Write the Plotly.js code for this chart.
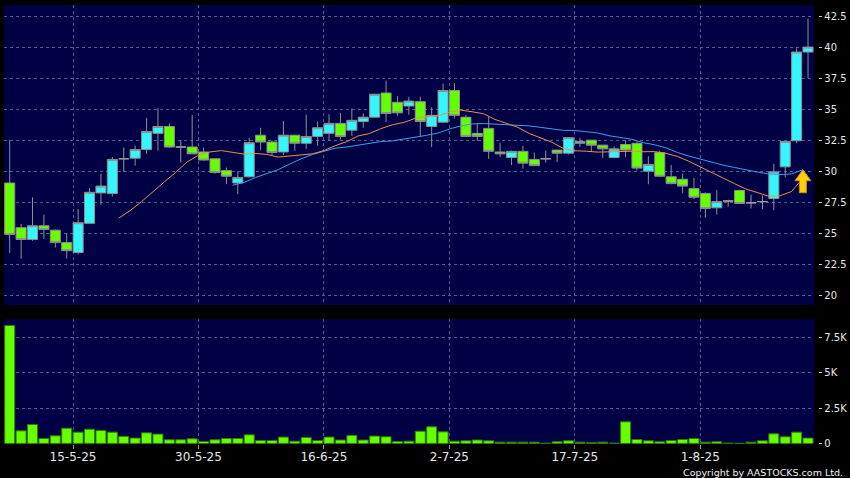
<!DOCTYPE html>
<html>
<head>
<meta charset="utf-8">
<script src="https://cdn.plot.ly/plotly-3.0.1.min.js"></script>
<style>
html,body{margin:0;padding:0;background:#000;}
#chart{width:850px;height:478px;}
</style>
</head>
<body>
<div id="chart"></div>
<script>
// ---- data ----
const dates = ['8-5-25','9-5-25','12-5-25','13-5-25','14-5-25','15-5-25','16-5-25','19-5-25','20-5-25','21-5-25',
  '22-5-25','23-5-25','26-5-25','27-5-25','28-5-25','29-5-25','30-5-25','2-6-25','3-6-25','4-6-25',
  '5-6-25','6-6-25','9-6-25','10-6-25','11-6-25','12-6-25','13-6-25','16-6-25','17-6-25','18-6-25',
  '19-6-25','20-6-25','23-6-25','24-6-25','25-6-25','26-6-25','27-6-25','30-6-25','2-7-25','3-7-25',
  '4-7-25','7-7-25','8-7-25','9-7-25','10-7-25','11-7-25','14-7-25','15-7-25','16-7-25','17-7-25',
  '18-7-25','21-7-25','22-7-25','23-7-25','24-7-25','25-7-25','28-7-25','29-7-25','30-7-25','31-7-25',
  '1-8-25','4-8-25','5-8-25','6-8-25','7-8-25','8-8-25','11-8-25','12-8-25','13-8-25','14-8-25','15-8-25'];

const open = [29.05,25.45,24.5,25.6,25.25,24.25,23.45,25.8,28.25,28.2,
  31.0,31.05,31.75,33.05,33.6,31.95,31.95,31.55,31.0,30.05,
  29.05,29.55,32.9,32.35,31.55,32.9,32.25,32.8,33.05,33.85,
  33.3,34.0,34.35,36.3,35.55,35.25,35.6,33.6,33.95,36.5,
  34.35,33.05,33.45,31.55,31.1,31.6,30.95,31.0,31.7,31.45,
  32.25,32.5,32.1,31.1,32.15,32.25,30.0,31.5,29.55,29.35,
  28.6,28.2,27.05,27.6,28.45,27.45,27.55,27.8,30.35,32.45,39.6];

const high = [32.5,25.75,27.9,26.5,25.3,25.0,26.95,28.65,29.8,31.15,
  31.9,32.05,34.3,35.1,33.85,32.5,34.55,31.9,31.0,30.3,
  30.0,32.7,33.5,32.5,34.05,32.9,34.55,34.0,34.6,34.7,
  35.05,34.65,36.25,37.3,36.05,36.0,36.0,35.15,37.05,37.1,
  34.55,33.85,34.4,32.3,31.65,32.05,31.5,31.65,31.7,32.75,
  32.7,32.5,32.1,32.0,32.5,32.4,31.2,31.65,30.5,29.8,
  29.45,28.3,28.5,27.7,28.5,28.1,28.05,30.6,32.4,39.9,42.3];

const low = [23.4,22.95,24.4,24.55,23.85,22.95,23.3,25.8,27.3,27.95,
  29.95,30.45,31.4,31.65,31.9,30.7,31.4,30.85,29.8,28.95,
  28.15,29.5,31.7,31.3,31.3,31.65,31.8,32.05,32.45,32.55,
  32.85,33.5,34.3,33.95,34.45,34.55,32.8,31.95,33.9,34.25,
  32.8,32.45,31.0,31.15,30.5,30.2,30.45,30.7,30.75,31.35,
  31.95,31.55,31.05,31.1,31.15,30.05,28.95,29.55,28.95,28.25,
  27.75,26.25,26.5,27.15,27.35,27.0,26.95,26.85,29.5,32.25,37.5];

const close = [24.9,24.5,25.6,25.3,24.25,23.6,25.85,28.3,28.8,30.95,
  31.0,31.75,33.2,33.6,31.95,31.95,31.4,30.9,29.9,29.6,
  29.5,32.3,32.35,31.5,32.9,32.25,32.8,33.5,33.85,32.8,
  34.1,34.35,36.2,34.65,34.7,35.65,34.0,34.5,36.5,34.5,
  32.8,32.8,31.6,31.4,31.6,30.65,30.45,31.0,31.45,32.7,
  32.4,32.1,31.8,31.8,31.7,30.25,30.55,29.6,29.0,28.8,
  27.9,27.0,27.55,27.6,27.4,27.45,27.55,29.95,32.4,39.6,40.0];

const volume = [8350,890,1340,350,540,1080,800,1010,920,800,
  500,380,750,660,260,260,330,140,260,350,
  350,610,210,210,450,160,420,210,450,240,
  570,240,520,470,140,160,870,1180,820,160,
  190,240,190,90,90,90,90,20,120,190,
  90,70,90,20,1530,280,190,120,210,280,
  350,90,120,20,10,90,190,680,470,800,380];

const ma10 = [null,null,null,null,null,null,null,null,null,26.21,
  26.82,27.54,28.30,29.13,29.90,30.74,31.29,31.55,31.66,31.53,
  31.38,31.43,31.35,31.14,31.23,31.26,31.40,31.66,32.06,32.38,
  32.84,33.04,33.43,33.74,33.92,34.26,34.38,34.48,34.75,34.92,
  34.79,34.63,34.17,33.85,33.54,33.04,32.68,32.33,31.83,31.65,
  31.61,31.54,31.56,31.60,31.61,31.57,31.58,31.44,31.19,30.80,
  30.35,29.84,29.42,29.00,28.57,28.29,27.99,28.02,28.36,29.44,null];

const ma20 = [null,null,null,null,null,null,null,null,null,null,
  null,null,null,null,null,null,null,null,null,28.87,
  29.10,29.49,29.82,30.13,30.57,31.00,31.35,31.61,31.86,31.95,
  32.11,32.24,32.39,32.44,32.58,32.76,32.89,33.07,33.40,33.65,
  33.81,33.84,33.80,33.79,33.73,33.65,33.53,33.41,33.29,33.28,
  33.20,33.08,32.86,32.72,32.57,32.30,32.13,31.88,31.51,31.22,
  30.98,30.69,30.49,30.30,30.09,29.93,29.78,29.73,29.78,30.12,null];

const tickDates = ['15-5-25','30-5-25','16-6-25','2-7-25','17-7-25','1-8-25'];
const priceTicks = [20,22.5,25,27.5,30,32.5,35,37.5,40,42.5];
const priceTickText = ['20','22.5','25','27.5','30','32.5','35','37.5','40','42.5'];
const volTicks = [0,2500,5000,7500];
const volTickText = ['0','2.5K','5K','7.5K'];

// ---- styling / layout ----
const UP = '#33f6ff', DOWN = '#66ff00', EDGE = '#8f8f8f', DOJI = '#9a9a9a';
const GRID = '#5a5a8c';
const SLOT = 0.55;            // lines & grid sit at the right part of each slot
const XD = 810.3/846;         // x domain end

const idx = dates.map((d,i)=>i);
function pick(f){
  const ids = idx.filter(f);
  return {x: ids, open: ids.map(i=>open[i]), high: ids.map(i=>high[i]),
          low: ids.map(i=>low[i]), close: ids.map(i=>close[i])};
}
function candle(sub, incCol, decCol, lineCol){
  return Object.assign({
    type:'candlestick', xaxis:'x', yaxis:'y', whiskerwidth:0, hoverinfo:'skip',
    increasing:{line:{color:lineCol, width:1}, fillcolor:incCol},
    decreasing:{line:{color:lineCol, width:1}, fillcolor:decCol}
  }, sub);
}
const upT = candle(pick(i=>close[i]>open[i]), UP, UP, EDGE);
const dnT = candle(pick(i=>close[i]<open[i]), DOWN, DOWN, EDGE);
const djT = candle(pick(i=>close[i]===open[i]), DOJI, DOJI, DOJI);

const lineX = idx.map(i=>i+SLOT);
const ma10T = {type:'scatter', mode:'lines', x:lineX, y:ma10, xaxis:'x', yaxis:'y',
  line:{color:'#ef8c52', width:1}, hoverinfo:'skip', connectgaps:false};
const ma20T = {type:'scatter', mode:'lines', x:lineX, y:ma20, xaxis:'x', yaxis:'y',
  line:{color:'#3d9ef0', width:1}, hoverinfo:'skip', connectgaps:false};

const volT = {type:'bar', x:idx, y:volume, xaxis:'x2', yaxis:'y2', hoverinfo:'skip',
  marker:{color:DOWN, line:{color:'#2f7a00', width:1}}};

const tickPos = tickDates.map(d=>dates.indexOf(d)+SLOT);
const lastMA = ma20.reduce((a,v,i)=>v!==null?i:a, 0);

const gridCommon = {showgrid:true, gridcolor:GRID, gridwidth:1, griddash:'3px,3px', zeroline:false, showline:false, fixedrange:true};

const layout = {
  width:850, height:478,
  paper_bgcolor:'#000000', plot_bgcolor:'#000044',
  margin:{l:4, r:0, t:5, b:34},
  showlegend:false,
  font:{family:'DejaVu Sans, Verdana, sans-serif', color:'#e8e8e8', size:12},
  boxgap:0.12, boxgroupgap:0, boxmode:'overlay',
  bargap:0.12,
  xaxis:Object.assign({domain:[0,XD], anchor:'y', range:[-0.5,70.55], tickmode:'array',
    tickvals:tickPos, ticktext:tickDates, showticklabels:false, ticks:'',
    rangeslider:{visible:false}}, gridCommon),
  xaxis2:Object.assign({domain:[0,XD], anchor:'y2', range:[-0.5,70.55], tickmode:'array',
    tickvals:tickPos, ticktext:tickDates, ticks:'outside', ticklen:4, tickwidth:1, tickcolor:'#9a9a9a',
    ticklabelstandoff:-2,
    tickfont:{size:12, color:'#e8e8e8'}}, gridCommon),
  yaxis:Object.assign({domain:[0.3166,1], anchor:'free', position:XD, side:'right', shift:4,
    range:[19.22,43.39], tickmode:'array', tickvals:priceTicks, ticktext:priceTickText,
    ticks:'outside', ticklen:3, tickwidth:1, tickcolor:'#d0d0d0', tickfont:{size:10, color:'#e8e8e8'}}, gridCommon),
  yaxis2:Object.assign({domain:[0,0.2841], anchor:'free', position:XD, side:'right', shift:4,
    range:[-40,8790], tickmode:'array', tickvals:volTicks, ticktext:volTickText,
    ticks:'outside', ticklen:3, tickwidth:1, tickcolor:'#d0d0d0', tickfont:{size:10, color:'#e8e8e8'}}, gridCommon),
  shapes:[{
    type:'path', xref:'x', yref:'y', xsizemode:'pixel', ysizemode:'pixel',
    xanchor:lastMA+SLOT, yanchor:ma20[lastMA],
    path:'M 0 0 L 8 -11 L 3.5 -11 L 3.5 -23 L -3.5 -23 L -3.5 -11 L -8 -11 Z',
    fillcolor:'#ffcc11', line:{color:'#c89000', width:1}, layer:'above'
  }],
  annotations:[{
    xref:'paper', yref:'paper', x:1, y:-0.065, xanchor:'right', yanchor:'middle', xshift:-5,
    text:'Copyright by AASTOCKS.com Ltd.', showarrow:false,
    font:{family:'DejaVu Sans, sans-serif', size:9.5, color:'#f0f0f0'}
  }]
};

Plotly.newPlot('chart', [volT, ma20T, ma10T, dnT, upT, djT], layout, {staticPlot:true, displayModeBar:false});
</script>
</body>
</html>
